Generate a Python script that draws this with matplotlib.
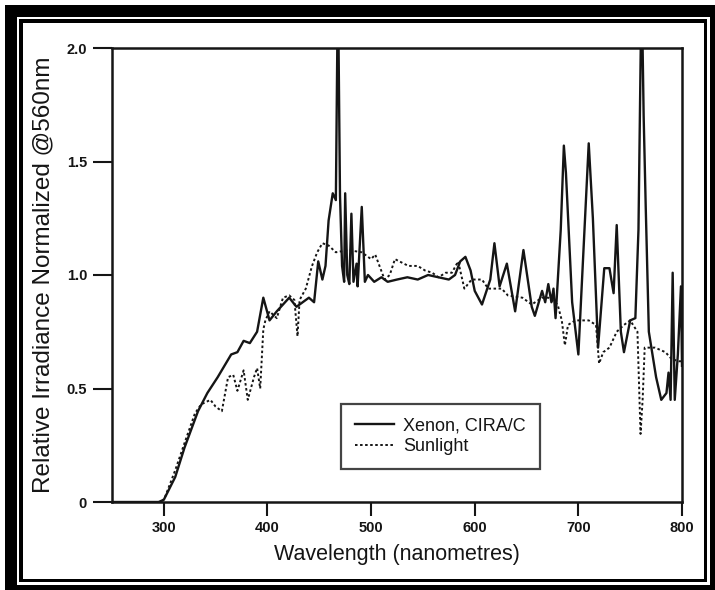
import matplotlib
matplotlib.use("Agg")
import matplotlib.pyplot as plt
from matplotlib.patches import Rectangle

# Xenon arc (CIRA/C filter) spectrum
xenon_nm = [250, 295, 300, 311, 320, 333, 342, 352, 365, 371, 377, 383, 390, 396,
            399, 402, 409, 415, 421, 428, 434, 440, 445, 449, 453, 456, 459, 463,
            466, 468, 470, 472, 474, 475, 477, 479, 481, 483, 486, 487, 491, 494,
            497, 503, 510, 516, 525, 535, 545, 555, 565, 575, 581, 586, 591, 596,
            600, 607, 615, 619, 624, 631, 639, 647, 655, 658, 665, 668, 671, 674,
            676, 678, 683, 686, 688, 694, 700, 710, 714, 719, 725, 730, 734, 737,
            741, 744, 750, 755, 758, 761, 763, 765, 768, 775, 780, 785, 787, 789,
            791, 793, 796, 799, 800]
xenon_val = [0, 0, 0.01, 0.11, 0.24, 0.40, 0.48, 0.55, 0.65, 0.66, 0.71, 0.70, 0.75, 0.90,
             0.85, 0.80, 0.84, 0.87, 0.90, 0.86, 0.88, 0.90, 0.88, 1.06, 0.98, 1.04, 1.24, 1.36,
             1.33, 2.3, 1.35, 1.04, 0.97, 1.36, 1.00, 0.96, 1.27, 0.97, 1.05, 0.95, 1.30, 0.97,
             1.00, 0.97, 0.99, 0.97, 0.98, 0.99, 0.98, 1.00, 0.99, 0.98, 1.00, 1.06, 1.08, 1.02,
             0.93, 0.87, 0.98, 1.14, 0.95, 1.05, 0.84, 1.11, 0.86, 0.82, 0.93, 0.88, 0.96, 0.88,
             0.94, 0.81, 1.20, 1.57, 1.45, 0.88, 0.65, 1.58, 1.25, 0.68, 1.03, 1.03, 0.92, 1.22,
             0.75, 0.66, 0.80, 0.81, 1.20, 2.3, 1.70, 1.30, 0.75, 0.55, 0.45, 0.48, 0.57, 0.45,
             1.01, 0.45, 0.65, 0.95, 0.60]

# Sunlight spectrum
sun_nm = [250, 298, 301, 311, 320, 330, 336, 345, 350, 356, 362, 367, 371, 377, 381,
          387, 390, 393, 396, 398, 402, 409, 415, 421, 426, 429, 431, 437, 443, 448,
          453, 459, 466, 478, 491, 500, 504, 513, 518, 523, 536, 545, 552, 559, 565,
          572, 578, 584, 590, 597, 607, 613, 626, 632, 646, 655, 665, 671, 680, 684,
          687, 690, 697, 710, 717, 720, 724, 730, 737, 744, 750, 757, 760, 762, 764,
          774, 784, 790, 797, 800]
sun_val = [0, 0, 0.02, 0.14, 0.26, 0.39, 0.43, 0.45, 0.42, 0.40, 0.55, 0.56, 0.49, 0.58, 0.45,
           0.55, 0.59, 0.50, 0.76, 0.80, 0.84, 0.81, 0.90, 0.91, 0.89, 0.73, 0.89, 0.94, 1.04, 1.10,
           1.14, 1.13, 1.10, 1.11, 1.10, 1.07, 1.09, 0.98, 1.00, 1.07, 1.04, 1.04, 1.02, 1.01, 0.99,
           1.01, 1.01, 1.06, 0.94, 0.98, 0.98, 0.94, 0.94, 0.91, 0.90, 0.87, 0.90, 0.90, 0.87, 0.80,
           0.69, 0.78, 0.80, 0.80, 0.78, 0.61, 0.66, 0.68, 0.75, 0.78, 0.80, 0.75, 0.30, 0.45, 0.68,
           0.68, 0.66, 0.63, 0.62, 0.62]

x_ticks = [300, 400, 500, 600, 700, 800]
y_ticks = [0, 0.5, 1.0, 1.5, 2.0]
y_tick_labels = ["0", "0.5", "1.0", "1.5", "2.0"]

INK = "#151515"
W, H = 715, 590

plt.rcParams["font.family"] = ["Liberation Sans", "DejaVu Sans"]


def px_rect(x0, y0, x1, y1, color, z):
    # box given in top-down pixel coordinates
    return Rectangle((x0 / W, 1 - y1 / H), (x1 - x0) / W, (y1 - y0) / H,
                     transform=fig.transFigure, facecolor=color, edgecolor="none",
                     zorder=z)


fig = plt.figure(figsize=(W / 100, H / 100), dpi=100)
fig.patch.set_facecolor("white")

# black photo-style frame
fig.add_artist(px_rect(5, 5, 715, 590, "black", -5))
fig.add_artist(px_rect(17, 17, 710, 585, "white", -4))
fig.add_artist(px_rect(19, 19, 707, 582, "black", -3))
fig.add_artist(px_rect(23, 23, 704, 579, "white", -2))

ax = fig.add_axes([112 / W, 1 - 502 / H, 570 / W, 454 / H])
ax.plot(xenon_nm, xenon_val, color=INK, lw=1.7, label="Xenon, CIRA/C")
ax.plot(sun_nm, sun_val, color=INK, lw=1.4, linestyle=(0, (1.3, 1.3)), label="Sunlight")

ax.set_xlim(250, 800)
ax.set_ylim(0, 2.0)
ax.set_xticks(x_ticks)
ax.set_yticks(y_ticks)
ax.set_yticklabels(y_tick_labels)

for s in ax.spines.values():
    s.set_linewidth(1.8)
    s.set_color(INK)
ax.tick_params(axis="x", direction="out", length=10, width=1.5, color=INK, pad=4)
ax.tick_params(axis="y", direction="out", length=14, width=1.5, color=INK, pad=4)
for lab in ax.get_xticklabels() + ax.get_yticklabels():
    lab.set_fontweight("bold")
    lab.set_fontsize(10.5)
    lab.set_color(INK)

ax.set_xlabel("Wavelength (nanometres)", fontsize=15.5, color=INK, labelpad=6)
ax.set_ylabel("Relative Irradiance Normalized @560nm", fontsize=17.5, color=INK, labelpad=9)

leg = ax.legend(loc="lower left", bbox_to_anchor=(0.402, 0.073), borderaxespad=0,
                fontsize=13, frameon=True, fancybox=False, handlelength=2.2,
                handletextpad=0.5, borderpad=0.75, labelspacing=0.2)
leg.get_frame().set_edgecolor(INK)
leg.get_frame().set_linewidth(1.6)
for t in leg.get_texts():
    t.set_color(INK)

fig.savefig("out.png", dpi=100)
